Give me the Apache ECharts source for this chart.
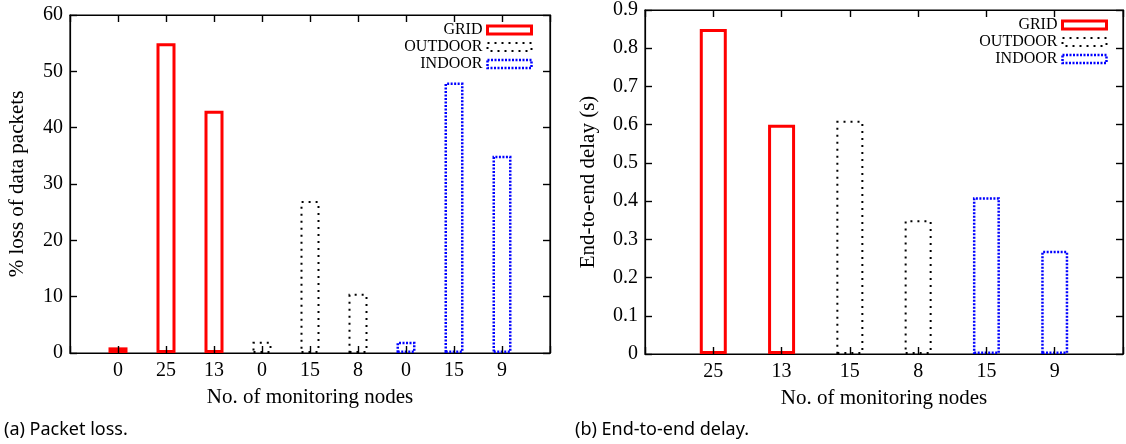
<!DOCTYPE html>
<html><head><meta charset="utf-8">
<script src="https://cdn.jsdelivr.net/npm/echarts@6/dist/echarts.min.js"></script>
<style>html,body{margin:0;padding:0;background:#fff}#c{width:1126px;height:444px}</style>
</head><body><div id="c"></div>
<script>
// ---- data ----
const seriesNames = ['GRID', 'OUTDOOR', 'INDOOR'];
const lossCategories = ['0', '25', '13', '0', '15', '8', '0', '15', '9'];
const lossGrid    = [1, 55, 43, null, null, null, null, null, null];
const lossOutdoor = [null, null, null, 2, 27, 10.5, null, null, null];
const lossIndoor  = [null, null, null, null, null, null, 2, 48, 35];
const delayCategories = ['25', '13', '15', '8', '15', '9'];
const delayGrid    = [0.85, 0.60, null, null, null, null];
const delayOutdoor = [null, null, 0.61, 0.35, null, null];
const delayIndoor  = [null, null, null, null, 0.41, 0.27];
const lossAxis  = { min: 0, max: 60, interval: 10 };
const delayAxis = { min: 0, max: 0.9, interval: 0.1 };
const xTitle = 'No. of monitoring nodes';
const lossTitle = '% loss of data packets';
const delayTitle = 'End-to-end delay (s)';
const captions = ['(a) Packet loss.', '(b) End-to-end delay.'];

// ---- build ----
const SERIF = 'Liberation Serif';
const styles = {
  GRID:    { color: 'rgba(0,0,0,0)', borderColor: '#ff0000', borderWidth: 3 },
  OUTDOOR: { color: 'rgba(0,0,0,0)', borderColor: '#000000', borderWidth: 2, borderType: [2, 5] },
  INDOOR:  { color: 'rgba(0,0,0,0)', borderColor: '#0000ff', borderWidth: 2.5, borderType: [2, 1.5] }
};
const lineStyle = { color: '#000', width: 1.2 };
const tickStyle = { color: '#000', width: 1.4 };
// both x axes of a chart: bottom one with labels, top mirror one with ticks only
function xAxes(cats, gi) {
  const common = { type: 'value', gridIndex: gi, min: 0, max: cats.length + 1, interval: 1,
    splitLine: { show: false }, z: 5 };
  const fmt = v => (v >= 1 && v <= cats.length ? cats[v - 1] : '');
  return [
    Object.assign({}, common, { position: 'bottom',
      axisLine: { show: true, onZero: false, lineStyle }, axisTick: { show: true, inside: true, length: 7, lineStyle: tickStyle },
      axisLabel: { color: '#000', fontFamily: SERIF, fontSize: 20, margin: 8, formatter: fmt, showMinLabel: true, showMaxLabel: true },
      name: xTitle, nameLocation: 'middle', nameGap: 34,
      nameTextStyle: { color: '#000', fontFamily: SERIF, fontSize: 21 } }),
    Object.assign({}, common, { position: 'top',
      axisLine: { show: true, onZero: false, lineStyle }, axisTick: { show: true, inside: true, length: 7, lineStyle: tickStyle },
      axisLabel: { show: false } })
  ];
}
function yAxes(ax, gi, title, fmt, gap) {
  return [
    { type: 'value', gridIndex: gi, min: ax.min, max: ax.max, interval: ax.interval, position: 'left',
      axisLine: { show: true, onZero: false, lineStyle }, axisTick: { show: true, inside: true, length: 7, lineStyle: tickStyle },
      splitLine: { show: false },
      axisLabel: { color: '#000', fontFamily: SERIF, fontSize: 20, margin: 7, formatter: fmt },
      name: title, nameLocation: 'middle', nameGap: gap,
      nameTextStyle: { color: '#000', fontFamily: SERIF, fontSize: 21 } },
    { type: 'value', gridIndex: gi, min: ax.min, max: ax.max, interval: ax.interval, position: 'right',
      axisLine: { show: true, onZero: false, lineStyle }, axisTick: { show: true, inside: true, length: 7, lineStyle: tickStyle },
      splitLine: { show: false }, axisLabel: { show: false } }
  ];
}
function bars(name, data, xi, yi, width) {
  const pts = data.map((v, i) => (v === null ? null : [i + 1, v])).filter(p => p);
  return { type: 'bar', name, data: pts, xAxisIndex: xi, yAxisIndex: yi,
    barWidth: width, barGap: '-100%', itemStyle: styles[name], silent: true, z: 2 };
}
function legend(right, top) {
  return { data: seriesNames.map(n => ({ name: n, itemStyle: styles[n] })),
    orient: 'vertical', align: 'right', right, top, padding: 0,
    icon: 'rect', itemWidth: 44, itemHeight: 8, itemGap: 1, selectedMode: false,
    textStyle: { color: '#000', fontFamily: SERIF, fontSize: 16 } };
}

const option = {
  animation: false,
  backgroundColor: '#fff',
  title: [
    { text: captions[0], left: 4, top: 421, padding: 0,
      textStyle: { color: '#000', fontFamily: 'Noto Sans', fontSize: 18, fontWeight: 'normal' } },
    { text: captions[1], left: 575, top: 421, padding: 0,
      textStyle: { color: '#000', fontFamily: 'Noto Sans', fontSize: 18, fontWeight: 'normal' } }
  ],
  legend: [legend(1126 - 533, 22), legend(1126 - 1108, 17)],
  grid: [
    { left: 70, top: 15, width: 480, height: 338, show: true, borderColor: '#000', borderWidth: 1.2, backgroundColor: 'rgba(0,0,0,0)' },
    { left: 645, top: 9, width: 478, height: 345, show: true, borderColor: '#000', borderWidth: 1.2, backgroundColor: 'rgba(0,0,0,0)' }
  ],
  xAxis: xAxes(lossCategories, 0).concat(xAxes(delayCategories, 1)),
  yAxis: yAxes(lossAxis, 0, lossTitle, v => String(v), 42)
    .concat(yAxes(delayAxis, 1, delayTitle, v => (v === 0 ? '0' : v.toFixed(1)), 46)),
  series: [
    bars('GRID', lossGrid, 0, 0, 19), bars('OUTDOOR', lossOutdoor, 0, 0, 19), bars('INDOOR', lossIndoor, 0, 0, 19),
    bars('GRID', delayGrid, 2, 2, 27), bars('OUTDOOR', delayOutdoor, 2, 2, 27), bars('INDOOR', delayIndoor, 2, 2, 27)
  ]
};
const chart = echarts.init(document.getElementById('c'), null, { renderer: 'canvas' });
chart.setOption(option);
</script>
</body></html>
